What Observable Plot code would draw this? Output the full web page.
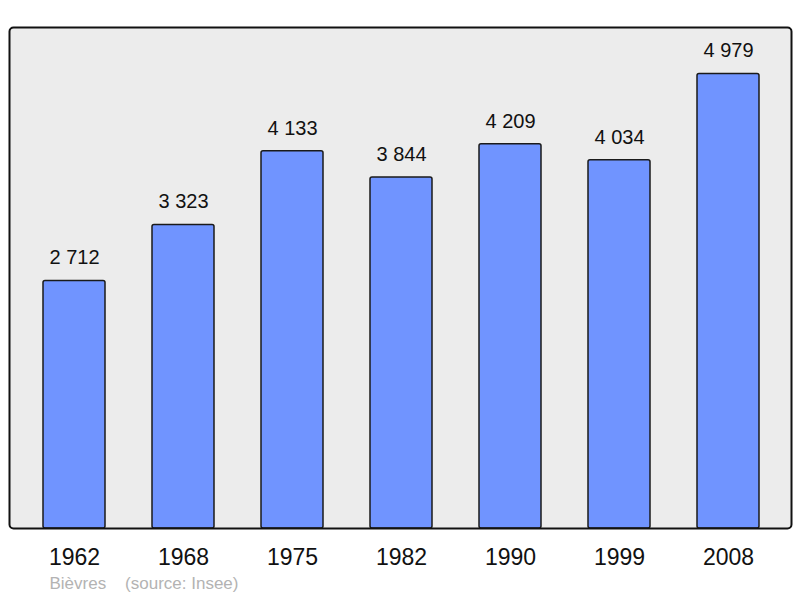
<!DOCTYPE html>
<html>
<head>
<meta charset="utf-8">
<script src="https://cdn.jsdelivr.net/npm/d3@7"></script>
<script src="https://cdn.jsdelivr.net/npm/@observablehq/plot@0.6"></script>
<style>
  html, body { margin: 0; padding: 0; background: #fff; }
  svg { display: block; }
</style>
</head>
<body>
<div id="chart"></div>
<script>
const years = ["1962", "1968", "1975", "1982", "1990", "1999", "2008"];
const population = [2712, 3323, 4133, 3844, 4209, 4034, 4979];
const place = "Bièvres";
const source = "(source: Insee)";

const data = years.map((y, i) => ({year: y, value: population[i]}));
const fmt = d3.formatLocale({decimal: ",", thousands: "\u00a0", grouping: [3]}).format(",d");

const chart = Plot.plot({
  width: 800,
  height: 598,
  marginTop: 27,
  marginBottom: 70,
  marginLeft: 9,
  marginRight: 9,
  style: {fontFamily: "'Liberation Sans', Arial, sans-serif", background: "#fff"},
  x: {domain: years, range: [18.3, 783.7], paddingInner: 0.433, paddingOuter: 0.2165, align: 0.5, label: null},
  y: {domain: [0, 5487], axis: null},
  marks: [
    Plot.frame({fill: "#ececec", stroke: "none", rx: 4}),
    Plot.barY(data, {x: "year", y: "value", fill: "#7094ff", stroke: "#1a1a1a", strokeWidth: 1.5, rx: 2}),
    Plot.text(data, {x: "year", y: "value", text: d => fmt(d.value), dy: -23, fontSize: 20, fill: "#111"}),
    Plot.frame({stroke: "#111", strokeWidth: 2, rx: 4}),
    Plot.axisX({tickSize: 0, tickPadding: 20, fontSize: 23, color: "#111", label: null}),
    Plot.text([place + "    " + source], {frameAnchor: "bottom-left", dx: 40, dy: 60, fontSize: 17, fill: "#b3b3b3", textAnchor: "start", style: "white-space: pre"})
  ]
});
document.getElementById("chart").appendChild(chart);
</script>
</body>
</html>
